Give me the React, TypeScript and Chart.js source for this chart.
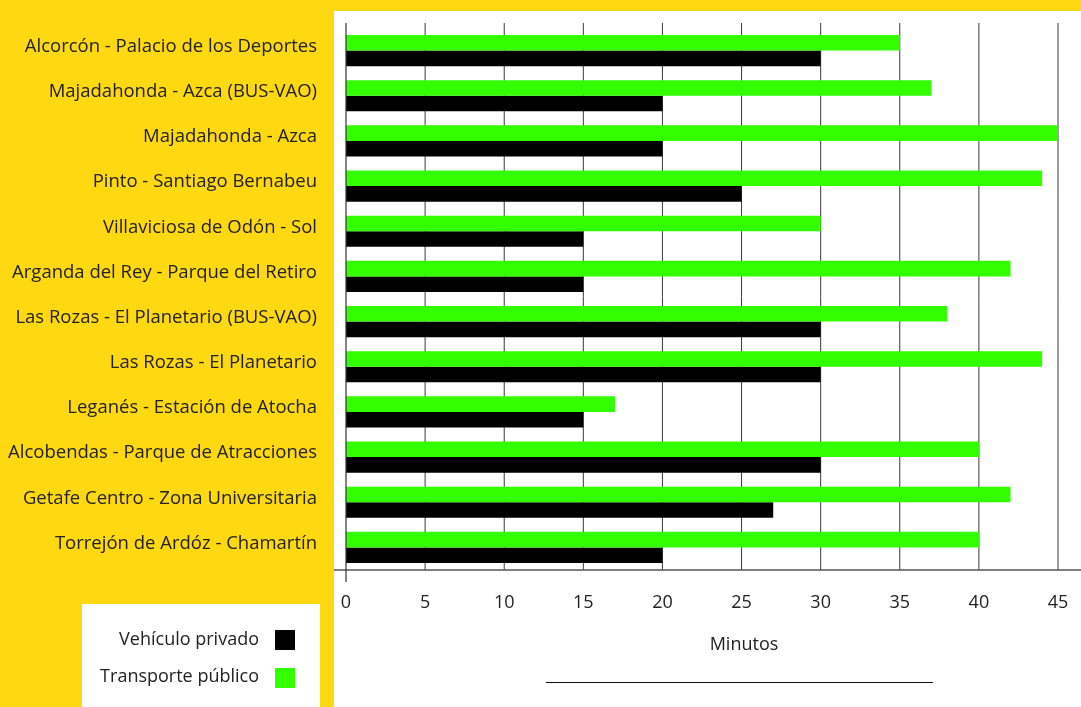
import { useEffect, useRef } from "react";
import { Chart, registerables } from "chart.js";

Chart.register(...registerables);

// Routes, top to bottom
const routes = [
  "Alcorcón - Palacio de los Deportes",
  "Majadahonda - Azca (BUS-VAO)",
  "Majadahonda - Azca",
  "Pinto - Santiago Bernabeu",
  "Villaviciosa de Odón - Sol",
  "Arganda del Rey - Parque del Retiro",
  "Las Rozas - El Planetario (BUS-VAO)",
  "Las Rozas - El Planetario",
  "Leganés - Estación de Atocha",
  "Alcobendas - Parque de Atracciones",
  "Getafe Centro - Zona Universitaria",
  "Torrejón de Ardóz - Chamartín",
];

// Travel time in minutes
const privateCar = [30, 20, 20, 25, 15, 15, 30, 30, 15, 30, 27, 20];
const publicTransport = [35, 37, 45, 44, 30, 42, 38, 44, 17, 40, 42, 40];

const xTicks = [0, 5, 10, 15, 20, 25, 30, 35, 40, 45];
const seriesLabels = ["Vehículo privado", "Transporte público"];
const axisTitle = "Minutos";

const YELLOW = "#FED811";
const GREEN = "#33FF00";
const BLACK = "#000000";
const TEXT = "#222222";
const FONT = "'Open Sans', 'Noto Sans', sans-serif";

const W = 1081;
const H = 707;

const decorPlugin = {
  id: "decor",
  beforeDraw(chart: any) {
    const ctx = chart.ctx;
    ctx.save();
    ctx.fillStyle = YELLOW;
    ctx.fillRect(0, 0, W, H);
    ctx.fillStyle = "#ffffff";
    ctx.fillRect(334, 11, W - 334, H - 11);
    // legend panel
    ctx.fillRect(82, 604, 238, H - 604);
    ctx.restore();
  },
  beforeDatasetsDraw(chart: any) {
    const { ctx, chartArea, scales } = chart;
    const x = scales.x;
    ctx.save();
    ctx.strokeStyle = "#3a3a3a";
    ctx.lineWidth = 1;
    xTicks.forEach((t) => {
      if (t === 0) return;
      const px = x.getPixelForValue(t);
      ctx.beginPath();
      ctx.moveTo(px, chartArea.top - 5);
      ctx.lineTo(px, chartArea.bottom);
      ctx.stroke();
    });
    ctx.restore();
  },
  afterDatasetsDraw(chart: any) {
    const { ctx, chartArea, scales } = chart;
    const x = scales.x;
    ctx.save();
    // horizontal base axis
    ctx.strokeStyle = "#555555";
    ctx.lineWidth = 1.5;
    ctx.beginPath();
    ctx.moveTo(334, chartArea.bottom);
    ctx.lineTo(W, chartArea.bottom);
    ctx.stroke();
    // zero line with tick below axis
    const x0 = x.getPixelForValue(0);
    ctx.strokeStyle = "#333333";
    ctx.lineWidth = 1.2;
    ctx.beginPath();
    ctx.moveTo(x0, chartArea.top - 5);
    ctx.lineTo(x0, chartArea.bottom + 12);
    ctx.stroke();

    // axis title and rule beneath
    ctx.fillStyle = TEXT;
    ctx.font = `18px ${FONT}`;
    ctx.textAlign = "center";
    ctx.textBaseline = "middle";
    ctx.fillText(axisTitle, 744, 645);
    ctx.strokeStyle = "#111111";
    ctx.lineWidth = 1;
    ctx.beginPath();
    ctx.moveTo(546, 682.5);
    ctx.lineTo(933, 682.5);
    ctx.stroke();

    // legend
    ctx.textAlign = "right";
    ctx.fillText(seriesLabels[0], 259, 640);
    ctx.fillText(seriesLabels[1], 259, 677);
    ctx.fillStyle = BLACK;
    ctx.fillRect(275, 630, 20, 20);
    ctx.fillStyle = GREEN;
    ctx.fillRect(275, 668, 20, 20);
    ctx.restore();
  },
};

export default function App() {
  const canvasRef = useRef<HTMLCanvasElement | null>(null);

  useEffect(() => {
    const canvas = canvasRef.current;
    if (!canvas) return;
    const chart = new Chart(canvas, {
      type: "bar",
      data: {
        labels: routes,
        datasets: [
          {
            label: seriesLabels[1],
            data: publicTransport,
            backgroundColor: GREEN,
            borderWidth: 0,
            categoryPercentage: 0.69,
            barPercentage: 1,
          },
          {
            label: seriesLabels[0],
            data: privateCar,
            backgroundColor: BLACK,
            borderWidth: 0,
            categoryPercentage: 0.69,
            barPercentage: 1,
          },
        ],
      },
      options: {
        indexAxis: "y",
        responsive: false,
        animation: false,
        devicePixelRatio: 1,
        layout: { padding: { top: 28, right: 23, left: 0, bottom: 0 } },
        plugins: {
          legend: { display: false },
          tooltip: { enabled: false },
        },
        scales: {
          x: {
            type: "linear",
            min: 0,
            max: 45,
            afterBuildTicks: (scale: any) => {
              scale.ticks = xTicks.map((v) => ({ value: v }));
            },
            afterFit: (scale: any) => {
              scale.height = 137;
              scale.paddingLeft = 0;
              scale.paddingRight = 0;
              scale.paddingTop = 0;
              scale.paddingBottom = 0;
            },
            grid: { display: false, drawTicks: false },
            border: { display: false },
            ticks: {
              color: TEXT,
              font: { family: FONT, size: 18 },
              padding: 22,
              maxRotation: 0,
              autoSkip: false,
            },
          },
          y: {
            type: "category",
            afterFit: (scale: any) => {
              scale.width = 346;
              scale.paddingLeft = 0;
              scale.paddingRight = 0;
              scale.paddingTop = 0;
              scale.paddingBottom = 0;
            },
            grid: { display: false, drawTicks: false },
            border: { display: false },
            ticks: {
              color: TEXT,
              font: { family: FONT, size: 18.5 },
              padding: 29,
              labelOffset: -4,
              autoSkip: false,
            },
          },
        },
      },
      plugins: [decorPlugin],
    } as any);
    return () => chart.destroy();
  }, []);

  return (
    <div style={{ position: "fixed", left: 0, top: 0, width: W, height: H }}>
      <canvas ref={canvasRef} width={W} height={H} style={{ display: "block" }} />
    </div>
  );
}
